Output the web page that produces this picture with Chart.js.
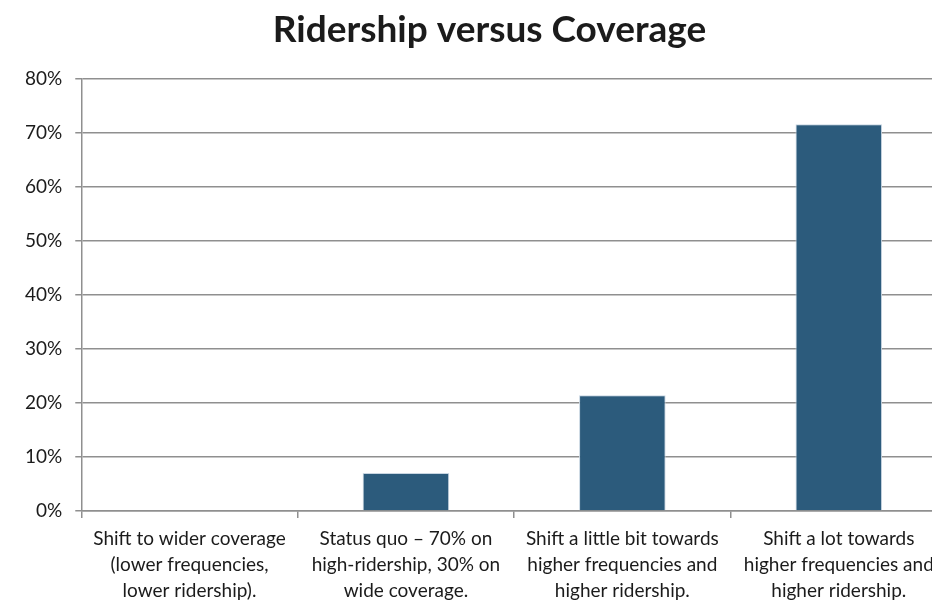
<!DOCTYPE html>
<html>
<head>
<meta charset="utf-8">
<script src="https://cdn.jsdelivr.net/npm/chart.js@4"></script>
<style>
    body { margin: 0; overflow: hidden; background: #fff; }
</style>
</head>
<body>
<canvas id="ridershipChart" width="980" height="600"></canvas>
<script>
const categories = [
    ['Shift to wider coverage', '(lower frequencies,', 'lower ridership).'],
    ['Status quo \u2013 70% on', 'high-ridership, 30% on', 'wide coverage.'],
    ['Shift a little bit towards', 'higher frequencies and', 'higher ridership.'],
    ['Shift a lot towards', 'higher frequencies and', 'higher ridership.']
];

const shares = [0, 7.0, 21.4, 71.5];

const yMin = 0;
const yMax = 80;
const yStep = 10;

const gridGray = '#8f8f8f';
const textDark = '#1b1b1b';

var ctx = document.getElementById('ridershipChart').getContext('2d');
//eslint-disable-next-line no-undef
new Chart(ctx, {
    type: 'bar',
    data: {
        labels: categories,
        datasets: [{
            label: 'Share',
            data: shares,
            backgroundColor: '#2c5b7c',
            borderColor: '#c9d6e2',
            borderWidth: 1,
            categoryPercentage: 0.4,
            barPercentage: 1
        }]
    },
    options: {
        responsive: false,
        animation: false,
        layout: {
            padding: { left: 12, right: 13, top: 0, bottom: -12 }
        },
        plugins: {
            legend: { display: false },
            tooltip: { enabled: false },
            title: {
                display: true,
                text: 'Ridership versus Coverage',
                color: textDark,
                font: { family: 'Lato', size: 37, weight: 'bold' },
                padding: { top: 8, bottom: 26 }
            }
        },
        scales: {
            x: {
                grid: {
                    drawOnChartArea: false,
                    color: gridGray,
                    lineWidth: 1.5,
                    tickLength: 7
                },
                border: { color: gridGray, width: 1.5 },
                ticks: {
                    color: textDark,
                    font: { family: 'Lato', size: 19, lineHeight: 1.37 },
                    maxRotation: 0,
                    autoSkip: false,
                    padding: 8
                }
            },
            y: {
                min: yMin,
                max: yMax,
                grid: {
                    color: gridGray,
                    lineWidth: 1.5,
                    tickLength: 6
                },
                border: { color: gridGray, width: 1.5 },
                ticks: {
                    stepSize: yStep,
                    color: textDark,
                    font: { family: 'Lato', size: 19 },
                    padding: 13,
                    callback: (value) => value + '%'
                }
            },
            // empty spacer on the right so the title centres like the original
            spacer: {
                type: 'linear',
                position: 'right',
                grid: { display: false },
                border: { display: false },
                ticks: { display: false },
                afterFit: (scale) => { scale.width = 20; }
            }
        }
    }
});
</script>
</body>
</html>
